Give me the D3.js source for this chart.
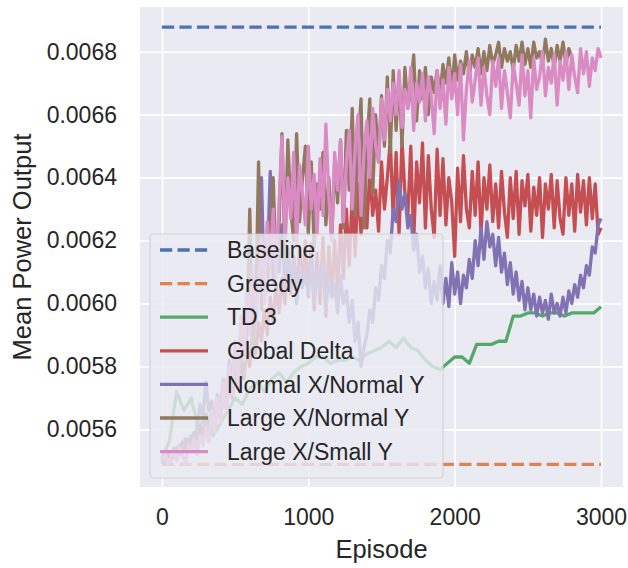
<!DOCTYPE html>
<html>
<head>
<meta charset="utf-8">
<script src="https://cdn.jsdelivr.net/npm/d3@7"></script>
<style>
  body { margin: 0; background: #fff; }
  text { font-family: "Liberation Sans", Arial, sans-serif; fill: #262626; }
</style>
</head>
<body>
<div id="chart"></div>
<script>
// noisy runs sampled every 20 episodes, TD 3 every 50
const STEP = 20;
const TD3_STEP = 50;

const baseline = 0.006878;
const greedy = 0.005489;

const td3 = [
  0.00551, 0.00556, 0.00572, 0.00566, 0.00570, 0.00560, 0.00565, 0.00558, 0.00562, 0.00566,
  0.00570, 0.00568, 0.00573, 0.00575, 0.00572, 0.00576, 0.00578, 0.00575, 0.00578, 0.00580,
  0.00581, 0.00583, 0.00583, 0.00581, 0.00582, 0.00582, 0.00583, 0.00582, 0.00584, 0.00585,
  0.00586, 0.00588, 0.00586, 0.00589, 0.00586, 0.00585, 0.00582, 0.00580, 0.00579, 0.00581,
  0.00583, 0.00583, 0.00581, 0.00587, 0.00587, 0.00587, 0.00588, 0.00588, 0.00596, 0.00596,
  0.00597, 0.00597, 0.00596, 0.00597, 0.00597, 0.00596, 0.00597, 0.00597, 0.00597, 0.00597,
  0.00599
];

const globalDelta = [
  0.00550, 0.00552, 0.00551, 0.00553, 0.00552, 0.00554, 0.00553, 0.00556, 0.00554, 0.00557,
  0.00556, 0.00559, 0.00557, 0.00561, 0.00559, 0.00563, 0.00560, 0.00566, 0.00562, 0.00568,
  0.00565, 0.00571, 0.00567, 0.00575, 0.00570, 0.00578, 0.00573, 0.00582, 0.00576, 0.00586,
  0.00580, 0.00590, 0.00584, 0.00594, 0.00588, 0.00598, 0.00590, 0.00602, 0.00594, 0.00606,
  0.00597, 0.00608, 0.00600, 0.00612, 0.00603, 0.00615, 0.00604, 0.00618, 0.00606, 0.00620,
  0.00602, 0.00619, 0.00598, 0.00616, 0.00600, 0.00621, 0.00596, 0.00618, 0.00602, 0.00620,
  0.00604, 0.00625, 0.00608, 0.00630, 0.00612, 0.00635, 0.00615, 0.00638, 0.00622, 0.00640,
  0.00624, 0.00642, 0.00628, 0.00636, 0.00623, 0.00645, 0.00630, 0.00640, 0.00652, 0.00627,
  0.00648, 0.00622, 0.00652, 0.00635, 0.00628, 0.00650, 0.00620, 0.00645, 0.00632, 0.00651,
  0.00624, 0.00647, 0.00630, 0.00621, 0.00649, 0.00628, 0.00646, 0.00625, 0.00640, 0.00632,
  0.00615, 0.00643, 0.00626, 0.00647, 0.00630, 0.00624, 0.00642, 0.00628, 0.00645, 0.00622,
  0.00640, 0.00630, 0.00644, 0.00626, 0.00638, 0.00624, 0.00642, 0.00629, 0.00621, 0.00640,
  0.00627, 0.00642, 0.00622, 0.00639, 0.00631, 0.00641, 0.00623, 0.00637, 0.00628, 0.00640,
  0.00621, 0.00638, 0.00630, 0.00641, 0.00624, 0.00639, 0.00627, 0.00622, 0.00640, 0.00628,
  0.00638, 0.00623, 0.00641, 0.00629, 0.00639, 0.00625, 0.00640, 0.00627, 0.00638, 0.00622,
  0.00624
];

const normalXNormalY = [
  0.00551, 0.00549, 0.00552, 0.00550, 0.00554, 0.00551, 0.00555, 0.00553, 0.00557, 0.00554,
  0.00558, 0.00556, 0.00561, 0.00568, 0.00564, 0.00575, 0.00566, 0.00569, 0.00562, 0.00571,
  0.00567, 0.00576, 0.00570, 0.00582, 0.00575, 0.00586, 0.00579, 0.00592, 0.00584, 0.00596,
  0.00590, 0.00603, 0.00596, 0.00608, 0.00640, 0.00602, 0.00612, 0.00642, 0.00606, 0.00614,
  0.00610, 0.00625, 0.00604, 0.00618, 0.00608, 0.00614, 0.00600, 0.00612, 0.00605, 0.00610,
  0.00603, 0.00615, 0.00600, 0.00611, 0.00604, 0.00612, 0.00598, 0.00608, 0.00602, 0.00606,
  0.00597, 0.00609, 0.00600, 0.00604, 0.00594, 0.00601, 0.00588, 0.00594, 0.00580, 0.00586,
  0.00590, 0.00598, 0.00594, 0.00605, 0.00601, 0.00612, 0.00608, 0.00620, 0.00616, 0.00630,
  0.00626, 0.00639, 0.00630, 0.00635, 0.00624, 0.00628, 0.00617, 0.00622, 0.00610, 0.00615,
  0.00605, 0.00611, 0.00600, 0.00607, 0.00601, 0.00612, 0.00600, 0.00608, 0.00599, 0.00613,
  0.00603, 0.00610, 0.00600, 0.00609, 0.00605, 0.00614, 0.00608, 0.00620, 0.00612, 0.00624,
  0.00614, 0.00626, 0.00618, 0.00622, 0.00612, 0.00621, 0.00610, 0.00616, 0.00606, 0.00613,
  0.00603, 0.00610, 0.00601, 0.00607, 0.00598, 0.00605, 0.00598, 0.00603, 0.00596, 0.00602,
  0.00597, 0.00601, 0.00595, 0.00603, 0.00597, 0.00600, 0.00596, 0.00602, 0.00597, 0.00604,
  0.00600, 0.00606, 0.00602, 0.00609, 0.00605, 0.00612, 0.00609, 0.00618, 0.00616, 0.00625,
  0.00627
];

// this run stops at episode 2800
const largeXNormalY = [
  0.00549, 0.00551, 0.00550, 0.00553, 0.00551, 0.00554, 0.00552, 0.00555, 0.00553, 0.00557,
  0.00554, 0.00558, 0.00556, 0.00561, 0.00557, 0.00563, 0.00559, 0.00566, 0.00561, 0.00569,
  0.00564, 0.00572, 0.00567, 0.00576, 0.00570, 0.00580, 0.00574, 0.00585, 0.00578, 0.00590,
  0.00630, 0.00586, 0.00596, 0.00645, 0.00598, 0.00612, 0.00604, 0.00622, 0.00640, 0.00610,
  0.00625, 0.00654, 0.00615, 0.00652, 0.00630, 0.00620, 0.00654, 0.00626, 0.00640, 0.00650,
  0.00622, 0.00645, 0.00618, 0.00638, 0.00630, 0.00648, 0.00625, 0.00640, 0.00620, 0.00645,
  0.00632, 0.00652, 0.00624, 0.00655, 0.00636, 0.00662, 0.00628, 0.00650, 0.00665, 0.00624,
  0.00650, 0.00665, 0.00635, 0.00660, 0.00645, 0.00666, 0.00650, 0.00672, 0.00648, 0.00674,
  0.00655, 0.00673, 0.00650, 0.00675, 0.00662, 0.00668, 0.00679, 0.00658, 0.00674, 0.00665,
  0.00675, 0.00660, 0.00672, 0.00667, 0.00674, 0.00666, 0.00676, 0.00670, 0.00678, 0.00668,
  0.00679, 0.00671, 0.00677, 0.00673, 0.00680, 0.00672, 0.00679, 0.00675, 0.00681, 0.00673,
  0.00680, 0.00674, 0.00682, 0.00676, 0.00679, 0.00683, 0.00675, 0.00681, 0.00677, 0.00680,
  0.00674, 0.00682, 0.00677, 0.00683, 0.00676, 0.00681, 0.00675, 0.00683, 0.00678, 0.00680,
  0.00676, 0.00684, 0.00677, 0.00681, 0.00675, 0.00682, 0.00677, 0.00683, 0.00676, 0.00681,
  0.00678
];

const largeXSmallY = [
  0.00550, 0.00552, 0.00549, 0.00551, 0.00553, 0.00550, 0.00554, 0.00552, 0.00549, 0.00555,
  0.00553, 0.00557, 0.00552, 0.00558, 0.00555, 0.00561, 0.00556, 0.00566, 0.00559, 0.00570,
  0.00562, 0.00575, 0.00566, 0.00580, 0.00571, 0.00588, 0.00574, 0.00596, 0.00582, 0.00604,
  0.00590, 0.00612, 0.00597, 0.00606, 0.00621, 0.00600, 0.00626, 0.00612, 0.00630, 0.00608,
  0.00632, 0.00653, 0.00620, 0.00640, 0.00627, 0.00648, 0.00618, 0.00644, 0.00635, 0.00625,
  0.00650, 0.00630, 0.00641, 0.00622, 0.00646, 0.00628, 0.00657, 0.00634, 0.00620, 0.00648,
  0.00636, 0.00652, 0.00626, 0.00645, 0.00655, 0.00630, 0.00650, 0.00660, 0.00628, 0.00648,
  0.00658, 0.00640, 0.00662, 0.00650, 0.00645, 0.00665, 0.00652, 0.00668, 0.00658, 0.00670,
  0.00660, 0.00674, 0.00656, 0.00668, 0.00662, 0.00675, 0.00655, 0.00670, 0.00664, 0.00673,
  0.00658, 0.00672, 0.00666, 0.00654, 0.00674, 0.00662, 0.00671, 0.00657, 0.00675, 0.00665,
  0.00673, 0.00660, 0.00676, 0.00652, 0.00668, 0.00677, 0.00664, 0.00671, 0.00678, 0.00663,
  0.00675, 0.00666, 0.00660, 0.00677, 0.00669, 0.00678, 0.00662, 0.00674, 0.00667, 0.00659,
  0.00676, 0.00670, 0.00663, 0.00679, 0.00666, 0.00674, 0.00659, 0.00678, 0.00668, 0.00672,
  0.00680, 0.00666, 0.00675, 0.00670, 0.00679, 0.00663, 0.00677, 0.00671, 0.00680, 0.00668,
  0.00679, 0.00672, 0.00667, 0.00681, 0.00673, 0.00680, 0.00669, 0.00678, 0.00674, 0.00681,
  0.00678
];

const xTicks = [0, 1000, 2000, 3000];
const yTicks = [0.0056, 0.0058, 0.0060, 0.0062, 0.0064, 0.0066, 0.0068];

const series = [
  { name: 'Baseline', color: '#4c72b0', dashed: true, values: [[0, baseline], [3000, baseline]] },
  { name: 'Greedy', color: '#dd8452', dashed: true, values: [[0, greedy], [3000, greedy]] },
  { name: 'TD 3', color: '#55a868', values: td3.map((v, i) => [i * TD3_STEP, v]) },
  { name: 'Global Delta', color: '#c44e52', values: globalDelta.map((v, i) => [i * STEP, v]) },
  { name: 'Normal X/Normal Y', color: '#8172b3', values: normalXNormalY.map((v, i) => [i * STEP, v]) },
  { name: 'Large X/Normal Y', color: '#937860', values: largeXNormalY.map((v, i) => [i * STEP, v]) },
  { name: 'Large X/Small Y', color: '#da8bc3', values: largeXSmallY.map((v, i) => [i * STEP, v]) },
];

const W = 628;
const H = 568;
const plot = { left: 140, right: 623, top: 7, bottom: 487 };
const LW = 3.3;

const svg = d3.select('#chart').append('svg').attr('width', W).attr('height', H);

const x = d3.scaleLinear().domain([-150, 3150]).range([plot.left, plot.right]);
const y = d3.scaleLinear().domain([0.005417, 0.006942]).range([plot.bottom, plot.top]);

svg.append('rect')
  .attr('x', plot.left).attr('y', plot.top)
  .attr('width', plot.right - plot.left).attr('height', plot.bottom - plot.top)
  .attr('fill', '#eaeaf2');

// grid + tick labels
const xAxis = svg.append('g')
  .attr('transform', `translate(0,${plot.bottom})`)
  .call(d3.axisBottom(x).tickValues(xTicks).tickSize(-(plot.bottom - plot.top)).tickPadding(22).tickFormat(d3.format('d')));
const yAxis = svg.append('g')
  .attr('transform', `translate(${plot.left},0)`)
  .call(d3.axisLeft(y).tickValues(yTicks).tickSize(-(plot.right - plot.left)).tickPadding(23).tickFormat(d3.format('.4f')));

[xAxis, yAxis].forEach((g) => {
  g.select('.domain').remove();
  g.selectAll('.tick line').attr('stroke', '#fff').attr('stroke-width', 1.6);
  g.selectAll('.tick text').style('font-size', '23px').attr('fill', '#262626');
});

const lines = svg.append('g').attr('class', 'lines');
const lineGen = d3.line().x((d) => x(d[0])).y((d) => y(d[1]));

lines.selectAll('path')
  .data(series)
  .enter()
  .append('path')
  .attr('d', (d) => lineGen(d.values))
  .attr('fill', 'none')
  .attr('stroke', (d) => d.color)
  .attr('stroke-width', LW)
  .attr('stroke-linejoin', 'round')
  .attr('stroke-dasharray', (d) => (d.dashed ? `${3.7 * LW},${1.6 * LW}` : null));

// axis titles
svg.append('text')
  .attr('x', (plot.left + plot.right) / 2)
  .attr('y', 558)
  .attr('text-anchor', 'middle')
  .style('font-size', '25.5px')
  .text('Episode');

svg.append('text')
  .attr('transform', `translate(31,${(plot.top + plot.bottom) / 2}) rotate(-90)`)
  .attr('text-anchor', 'middle')
  .style('font-size', '25.5px')
  .text('Mean Power Output');

// legend
const legend = svg.append('g').attr('class', 'legend');
legend.append('rect')
  .attr('x', 150).attr('y', 234)
  .attr('width', 293).attr('height', 244)
  .attr('rx', 4)
  .attr('fill', '#eaeaf2').attr('fill-opacity', 0.8)
  .attr('stroke', '#cccccc').attr('stroke-opacity', 0.8).attr('stroke-width', 1.2);

const items = legend.selectAll('g.item')
  .data(series)
  .enter()
  .append('g')
  .attr('class', 'item')
  .attr('transform', (d, i) => `translate(0,${250 + i * 33.6})`);

items.append('line')
  .attr('x1', 160).attr('x2', 208)
  .attr('stroke', (d) => d.color)
  .attr('stroke-width', LW)
  .attr('stroke-dasharray', (d) => (d.dashed ? `${3.7 * LW},${1.6 * LW}` : null));

items.append('text')
  .attr('x', 227)
  .attr('dy', '0.36em')
  .style('font-size', '23px')
  .text((d) => d.name);
</script>
</body>
</html>
